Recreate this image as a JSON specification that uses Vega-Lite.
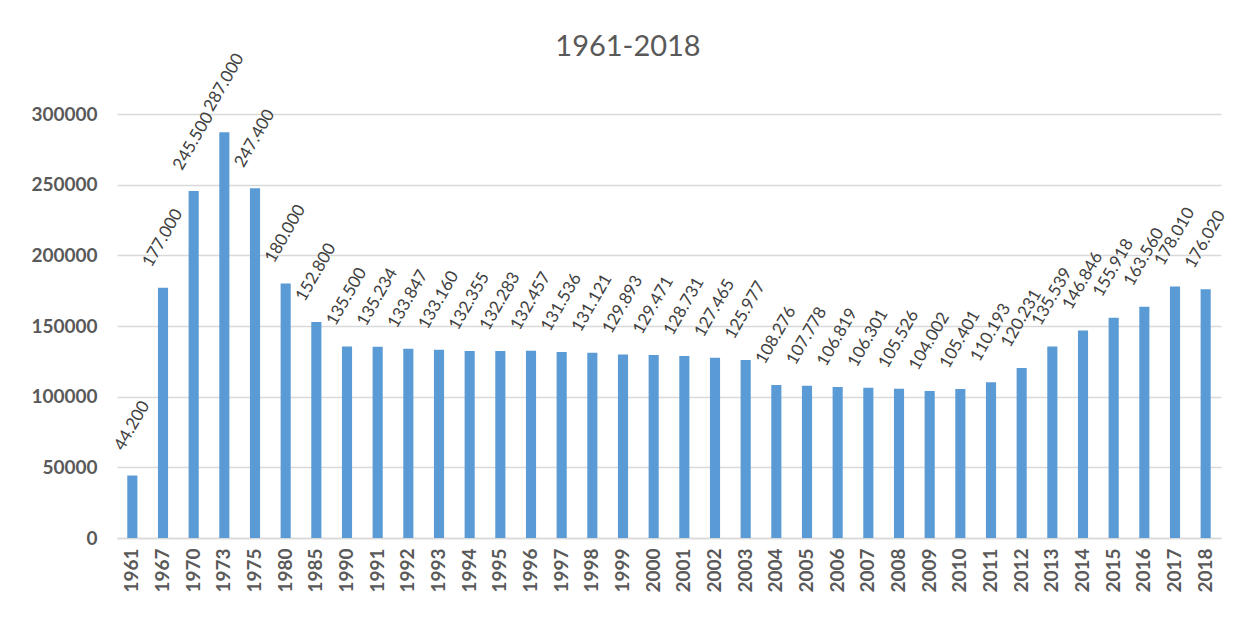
{
  "$schema": "https://vega.github.io/schema/vega-lite/v6.json",
  "width": 1104,
  "height": 424,
  "autosize": {"type": "none"},
  "padding": {"left": 117, "top": 114, "right": 20, "bottom": 81},
  "background": "white",
  "title": {
    "text": "1961-2018",
    "fontSize": 29,
    "font": "Lato",
    "fontWeight": "normal",
    "color": "#595959",
    "anchor": "middle",
    "dx": -41,
    "baseline": "bottom",
    "offset": -40
  },
  "data": {
    "values": [
      {"year": "1961", "value": 44200, "label": "44.200"},
      {"year": "1967", "value": 177000, "label": "177.000"},
      {"year": "1970", "value": 245500, "label": "245.500"},
      {"year": "1973", "value": 287000, "label": "287.000"},
      {"year": "1975", "value": 247400, "label": "247.400"},
      {"year": "1980", "value": 180000, "label": "180.000"},
      {"year": "1985", "value": 152800, "label": "152.800"},
      {"year": "1990", "value": 135500, "label": "135.500"},
      {"year": "1991", "value": 135234, "label": "135.234"},
      {"year": "1992", "value": 133847, "label": "133.847"},
      {"year": "1993", "value": 133160, "label": "133.160"},
      {"year": "1994", "value": 132355, "label": "132.355"},
      {"year": "1995", "value": 132283, "label": "132.283"},
      {"year": "1996", "value": 132457, "label": "132.457"},
      {"year": "1997", "value": 131536, "label": "131.536"},
      {"year": "1998", "value": 131121, "label": "131.121"},
      {"year": "1999", "value": 129893, "label": "129.893"},
      {"year": "2000", "value": 129471, "label": "129.471"},
      {"year": "2001", "value": 128731, "label": "128.731"},
      {"year": "2002", "value": 127465, "label": "127.465"},
      {"year": "2003", "value": 125977, "label": "125.977"},
      {"year": "2004", "value": 108276, "label": "108.276"},
      {"year": "2005", "value": 107778, "label": "107.778"},
      {"year": "2006", "value": 106819, "label": "106.819"},
      {"year": "2007", "value": 106301, "label": "106.301"},
      {"year": "2008", "value": 105526, "label": "105.526"},
      {"year": "2009", "value": 104002, "label": "104.002"},
      {"year": "2010", "value": 105401, "label": "105.401"},
      {"year": "2011", "value": 110193, "label": "110.193"},
      {"year": "2012", "value": 120231, "label": "120.231"},
      {"year": "2013", "value": 135539, "label": "135.539"},
      {"year": "2014", "value": 146846, "label": "146.846"},
      {"year": "2015", "value": 155918, "label": "155.918"},
      {"year": "2016", "value": 163560, "label": "163.560"},
      {"year": "2017", "value": 178010, "label": "178.010"},
      {"year": "2018", "value": 176020, "label": "176.020"}
    ]
  },
  "encoding": {
    "x": {
      "field": "year",
      "type": "ordinal",
      "sort": null,
      "scale": {"paddingInner": 0.67, "paddingOuter": 0.335},
      "axis": {
        "title": null,
        "labelAngle": -90,
        "labelAlign": "right",
        "labelBaseline": "middle",
        "labelFont": "Lato",
        "labelFontSize": 19,
        "labelFontWeight": "bold",
        "labelColor": "#595959",
        "labelPadding": 10,
        "ticks": false,
        "domainColor": "#d9d9d9",
        "domainWidth": 1.5,
        "grid": false
      }
    },
    "y": {
      "field": "value",
      "type": "quantitative",
      "scale": {"domain": [0, 300000], "nice": false},
      "axis": {
        "title": null,
        "values": [0, 50000, 100000, 150000, 200000, 250000, 300000],
        "format": "d",
        "labelFont": "Lato",
        "labelFontSize": 19,
        "labelFontWeight": "bold",
        "labelColor": "#595959",
        "labelPadding": 20,
        "ticks": false,
        "domain": false,
        "grid": true,
        "gridColor": "#d9d9d9",
        "gridWidth": 1.5
      }
    }
  },
  "layer": [
    {"mark": {"type": "bar", "color": "#5b9bd5"}},
    {
      "mark": {
        "type": "text",
        "angle": 300,
        "align": "center",
        "baseline": "middle",
        "dx": 43,
        "dy": -25,
        "font": "Lato",
        "fontSize": 17,
        "color": "#404040"
      },
      "encoding": {"text": {"field": "label"}}
    }
  ],
  "config": {"view": {"stroke": null}}
}
